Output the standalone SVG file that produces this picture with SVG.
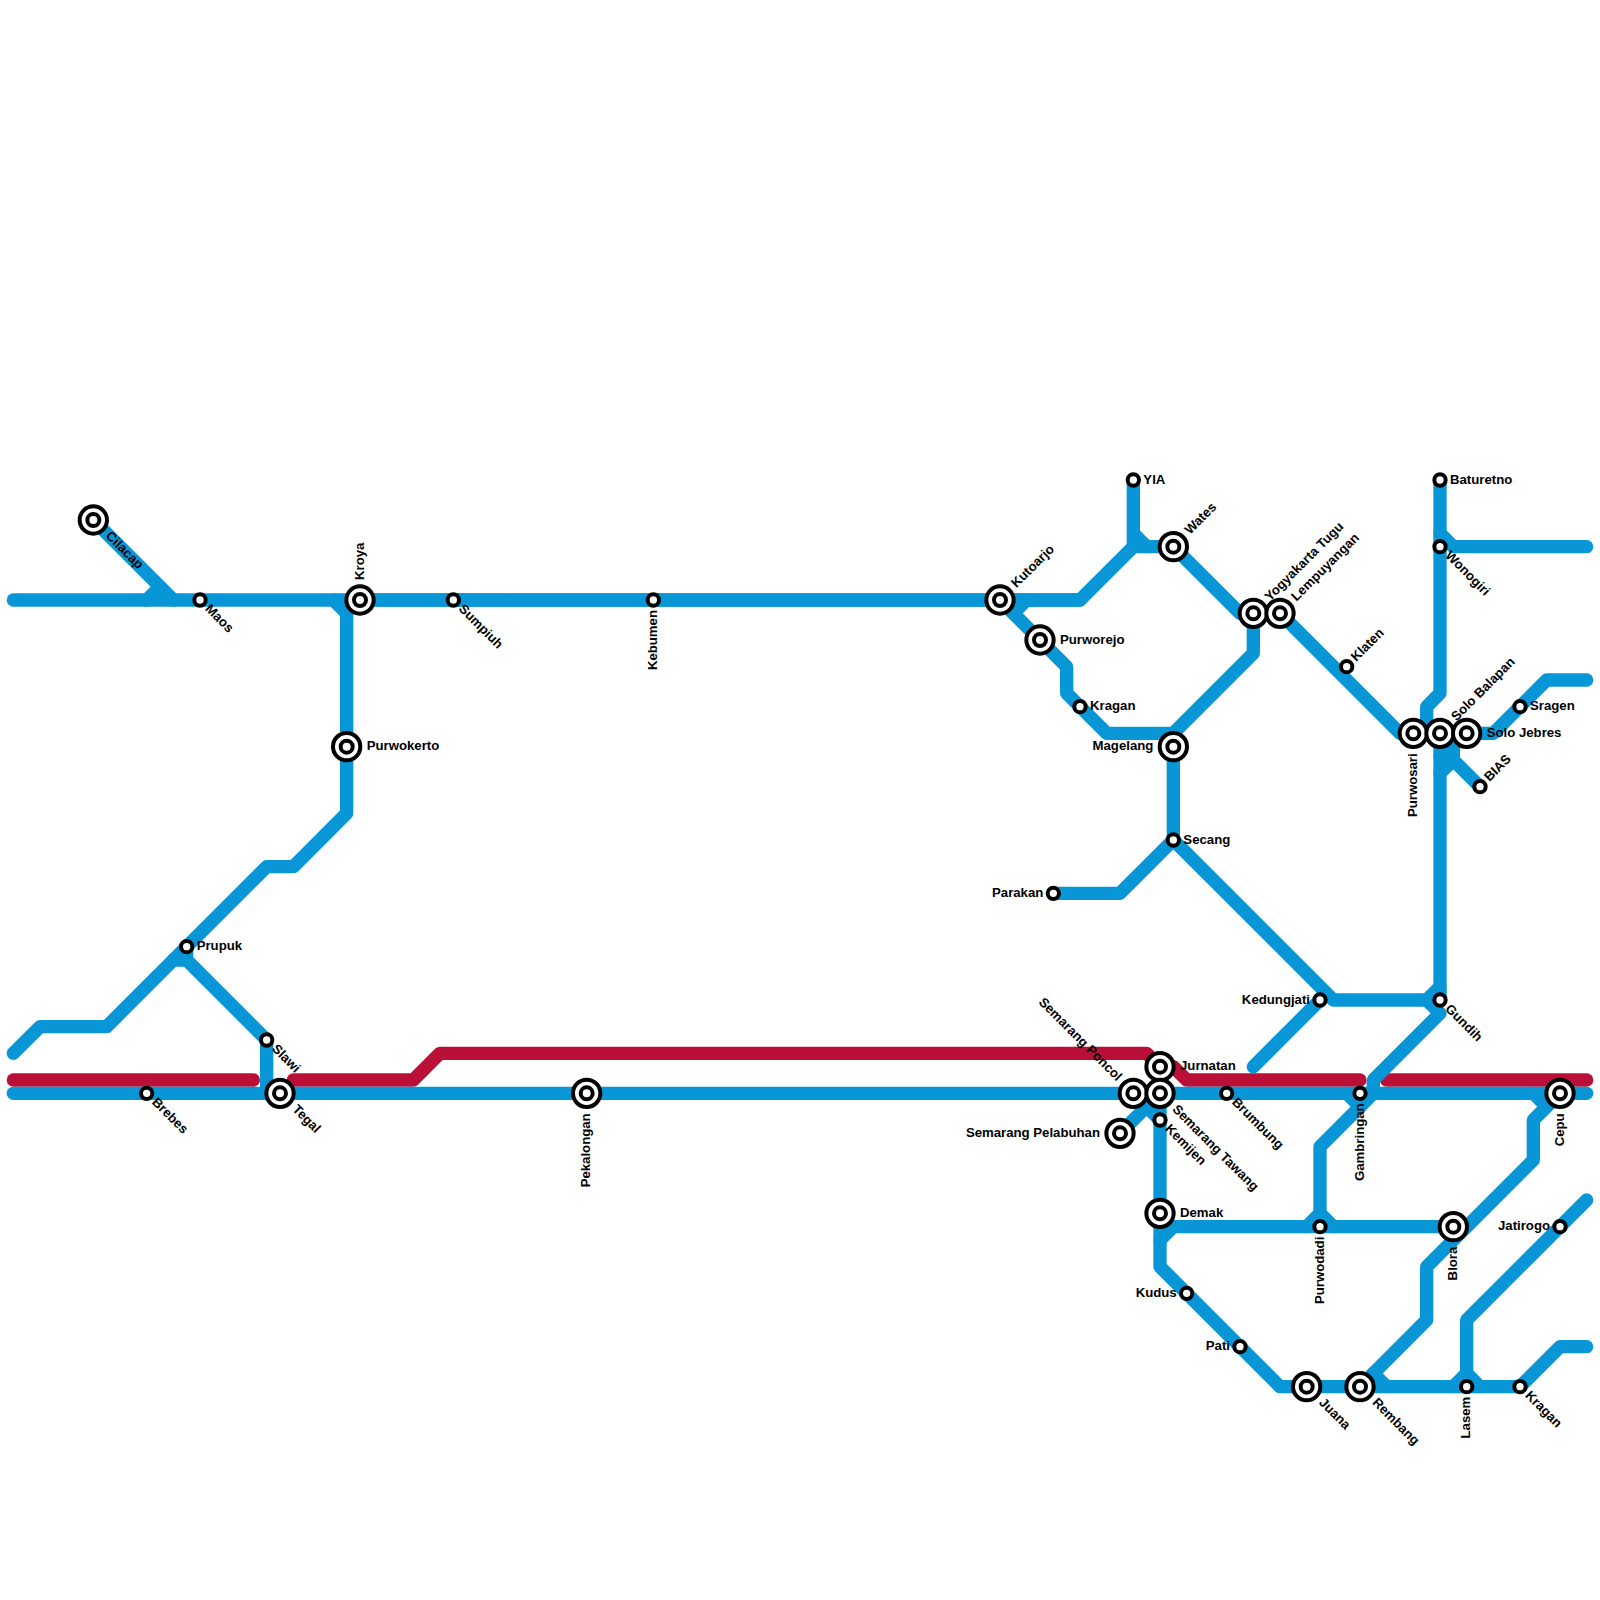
<svg xmlns="http://www.w3.org/2000/svg" width="1600" height="1600" viewBox="0 0 1600 1600">
<style>
.b,.r{fill:none;stroke-width:13.33;stroke-linecap:round;stroke-linejoin:round}
.b{stroke:#0896D7}.r{stroke:#BA1037}
circle{fill:#fff;stroke:#000;stroke-width:4}
text{font-family:"Liberation Sans",Arial,sans-serif;font-weight:700;font-size:13.2px;fill:#000}
.e{text-anchor:end}
</style>
<defs>
<g id="big"><circle r="13.67"/><circle r="6"/></g>
<circle id="small" r="5.67"/>
</defs>
<rect width="1600" height="1600" fill="#fff"/>
<g id="connectors">
<path class="r" d="M13.33 1080H253.33"/>
<path class="r" d="M293.33 1080H413.33L440 1053.33H1146.67L1160 1066.67H1173.33L1186.67 1080H1360"/>
<path class="r" d="M1386.67 1080H1586.67"/>
<path class="b" d="M13.33 1093.33H1586.67"/>
<path class="b" d="M13.33 600H1000"/>
<path class="b" d="M93.33 520L173.33 600"/>
<path class="b" d="M146.67 600L160 586.67"/>
<path class="b" d="M333.33 600L346.67 613.33V813.33L293.33 866.67H266.67L106.67 1026.67H40L13.33 1053.33"/>
<path class="b" d="M360 600H1080"/>
<path class="b" d="M186.67 946.67V960H173.33M186.67 960L266.67 1040V1093.33"/>
<path class="b" d="M1000 600H1080L1133.33 546.67H1173.33L1240 613.33H1253.33V653.33L1173.33 733.33H1106.67L1066.67 693.33V666.67L1000 600"/>
<path class="b" d="M1013.33 613.33L1026.67 600"/>
<path class="b" d="M1133.33 480V546.67M1133.33 533.33L1146.67 546.67"/>
<path class="b" d="M1173.33 733.33V840"/>
<path class="b" d="M1053.33 893.33H1120L1173.33 840L1333.33 1000H1440"/>
<path class="b" d="M1253.33 1066.67L1320 1000"/>
<path class="b" d="M1280 613.33L1400 733.33H1466.67"/>
<path class="b" d="M1440 480V693.33L1426.67 706.67V733.33"/>
<path class="b" d="M1440 533.33L1453.33 546.67H1586.67"/>
<path class="b" d="M1440 733.33V1000"/>
<path class="b" d="M1440 746.67H1453.33M1440 756H1453.33"/>
<path class="b" d="M1453.33 733.33V760L1480 786.67M1453.33 760L1440 773.33"/>
<path class="b" d="M1466.67 733.33H1493.33L1546.67 680H1586.67"/>
<path class="b" d="M1426.67 1000L1440 986.67M1426.67 1000L1440 1013.33L1373.33 1080V1093.33L1320 1146.67V1213.33L1333.33 1226.67M1320 1213.33L1306.67 1226.67"/>
<path class="b" d="M1346.67 1093.33L1360 1106.67"/>
<path class="b" d="M1533.33 1093.33L1546.67 1106.67L1560 1093.33M1546.67 1106.67L1533.33 1120V1160L1426.67 1266.67V1320L1360 1386.67"/>
<path class="b" d="M1373.33 1373.33L1386.67 1386.67"/>
<path class="b" d="M1120 1133.33L1160 1093.33V1266.67L1280 1386.67H1520L1560 1346.67H1586.67"/>
<path class="b" d="M1146.67 1106.67L1160 1120"/>
<path class="b" d="M1160 1240L1173.33 1226.67H1453.33"/>
<path class="b" d="M1453.33 1386.67L1466.67 1373.33L1480 1386.67M1466.67 1386.67V1320L1586.67 1200"/>
</g>
<g id="n-cilacap" transform="translate(93.33 520)"><use href="#big"/><text transform="rotate(45)" x="20" y="3.5">Cilacap</text></g>
<g id="n-maos" transform="translate(200 600)"><use href="#small"/><text transform="rotate(45)" x="10" y="3.5">Maos</text></g>
<g id="n-kroya" transform="translate(360 600)"><use href="#big"/><text transform="rotate(-90)" x="20" y="3.5">Kroya</text></g>
<g id="n-sumpiuh" transform="translate(453.33 600)"><use href="#small"/><text transform="rotate(45)" x="10" y="3.5">Sumpiuh</text></g>
<g id="n-kebumen" transform="translate(653.33 600)"><use href="#small"/><text class="e" transform="rotate(-90)" x="-10" y="3.5">Kebumen</text></g>
<g id="n-purwokerto" transform="translate(346.67 746.67)"><use href="#big"/><text x="20" y="3.5">Purwokerto</text></g>
<g id="n-prupuk" transform="translate(186.67 946.67)"><use href="#small"/><text x="10" y="3.5">Prupuk</text></g>
<g id="n-slawi" transform="translate(266.67 1040)"><use href="#small"/><text transform="rotate(45)" x="10" y="3.5">Slawi</text></g>
<g id="n-brebes" transform="translate(146.67 1093.33)"><use href="#small"/><text transform="rotate(45)" x="10" y="3.5">Brebes</text></g>
<g id="n-tegal" transform="translate(280 1093.33)"><use href="#big"/><text transform="rotate(45)" x="20" y="3.5">Tegal</text></g>
<g id="n-pekalongan" transform="translate(586.67 1093.33)"><use href="#big"/><text class="e" transform="rotate(-90)" x="-20" y="3.5">Pekalongan</text></g>
<g id="n-kutoarjo" transform="translate(1000 600)"><use href="#big"/><text transform="rotate(-45)" x="20" y="3.5">Kutoarjo</text></g>
<g id="n-purworejo" transform="translate(1040 640)"><use href="#big"/><text x="20" y="3.5">Purworejo</text></g>
<g id="n-kragan1" transform="translate(1080 706.67)"><use href="#small"/><text x="10" y="3.5">Kragan</text></g>
<g id="n-yia" transform="translate(1133.33 480)"><use href="#small"/><text x="10" y="3.5">YIA</text></g>
<g id="n-wates" transform="translate(1173.33 546.67)"><use href="#big"/><text transform="rotate(-45)" x="20" y="3.5">Wates</text></g>
<g id="n-magelang" transform="translate(1173.33 746.67)"><use href="#big"/><text class="e" x="-20" y="3.5">Magelang</text></g>
<g id="n-yogyakarta" transform="translate(1253.33 613.33)"><use href="#big"/><text transform="rotate(-45)" x="20" y="3.5">Yogyakarta Tugu</text></g>
<g id="n-lempuyangan" transform="translate(1280 613.33)"><use href="#big"/><text transform="rotate(-45)" x="20" y="3.5">Lempuyangan</text></g>
<g id="n-klaten" transform="translate(1346.67 666.67)"><use href="#small"/><text transform="rotate(-45)" x="10" y="3.5">Klaten</text></g>
<g id="n-secang" transform="translate(1173.33 840)"><use href="#small"/><text x="10" y="3.5">Secang</text></g>
<g id="n-parakan" transform="translate(1053.33 893.33)"><use href="#small"/><text class="e" x="-10" y="3.5">Parakan</text></g>
<g id="n-kedungjati" transform="translate(1320 1000)"><use href="#small"/><text class="e" x="-10" y="3.5">Kedungjati</text></g>
<g id="n-baturetno" transform="translate(1440 480)"><use href="#small"/><text x="10" y="3.5">Baturetno</text></g>
<g id="n-wonogiri" transform="translate(1440 546.67)"><use href="#small"/><text transform="rotate(45)" x="10" y="3.5">Wonogiri</text></g>
<g id="n-sragen" transform="translate(1520 706.67)"><use href="#small"/><text x="10" y="3.5">Sragen</text></g>
<g id="n-purwosari" transform="translate(1413.33 733.33)"><use href="#big"/><text class="e" transform="rotate(-90)" x="-20" y="3.5">Purwosari</text></g>
<g id="n-solobalapan" transform="translate(1440 733.33)"><use href="#big"/><text transform="rotate(-45)" x="20" y="3.5">Solo Balapan</text></g>
<g id="n-solojebres" transform="translate(1466.67 733.33)"><use href="#big"/><text x="20" y="3.5">Solo Jebres</text></g>
<g id="n-bias" transform="translate(1480 786.67)"><use href="#small"/><text transform="rotate(-45)" x="10" y="3.5">BIAS</text></g>
<g id="n-gundih" transform="translate(1440 1000)"><use href="#small"/><text transform="rotate(45)" x="10" y="3.5">Gundih</text></g>
<g id="n-poncol" transform="translate(1133.33 1093.33)"><use href="#big"/><text class="e" transform="rotate(45)" x="-20" y="3.5">Semarang Poncol</text></g>
<g id="n-jurnatan" transform="translate(1160 1066.67)"><use href="#big"/><text x="20" y="3.5">Jurnatan</text></g>
<g id="n-tawang" transform="translate(1160 1093.33)"><use href="#big"/><text transform="rotate(45)" x="20" y="3.5">Semarang Tawang</text></g>
<g id="n-pelabuhan" transform="translate(1120 1133.33)"><use href="#big"/><text class="e" x="-20" y="3.5">Semarang Pelabuhan</text></g>
<g id="n-kemijen" transform="translate(1160 1120)"><use href="#small"/><text transform="rotate(45)" x="10" y="3.5">Kemijen</text></g>
<g id="n-brumbung" transform="translate(1226.67 1093.33)"><use href="#small"/><text transform="rotate(45)" x="10" y="3.5">Brumbung</text></g>
<g id="n-gambringan" transform="translate(1360 1093.33)"><use href="#small"/><text class="e" transform="rotate(-90)" x="-10" y="3.5">Gambringan</text></g>
<g id="n-cepu" transform="translate(1560 1093.33)"><use href="#big"/><text class="e" transform="rotate(-90)" x="-20" y="3.5">Cepu</text></g>
<g id="n-demak" transform="translate(1160 1213.33)"><use href="#big"/><text x="20" y="3.5">Demak</text></g>
<g id="n-purwodadi" transform="translate(1320 1226.67)"><use href="#small"/><text class="e" transform="rotate(-90)" x="-10" y="3.5">Purwodadi</text></g>
<g id="n-blora" transform="translate(1453.33 1226.67)"><use href="#big"/><text class="e" transform="rotate(-90)" x="-20" y="3.5">Blora</text></g>
<g id="n-jatirogo" transform="translate(1560 1226.67)"><use href="#small"/><text class="e" x="-10" y="3.5">Jatirogo</text></g>
<g id="n-kudus" transform="translate(1186.67 1293.33)"><use href="#small"/><text class="e" x="-10" y="3.5">Kudus</text></g>
<g id="n-pati" transform="translate(1240 1346.67)"><use href="#small"/><text class="e" x="-10" y="3.5">Pati</text></g>
<g id="n-juana" transform="translate(1306.67 1386.67)"><use href="#big"/><text transform="rotate(45)" x="20" y="3.5">Juana</text></g>
<g id="n-rembang" transform="translate(1360 1386.67)"><use href="#big"/><text transform="rotate(45)" x="20" y="3.5">Rembang</text></g>
<g id="n-lasem" transform="translate(1466.67 1386.67)"><use href="#small"/><text class="e" transform="rotate(-90)" x="-10" y="3.5">Lasem</text></g>
<g id="n-kragan2" transform="translate(1520 1386.67)"><use href="#small"/><text transform="rotate(45)" x="10" y="3.5">Kragan</text></g>
</svg>
